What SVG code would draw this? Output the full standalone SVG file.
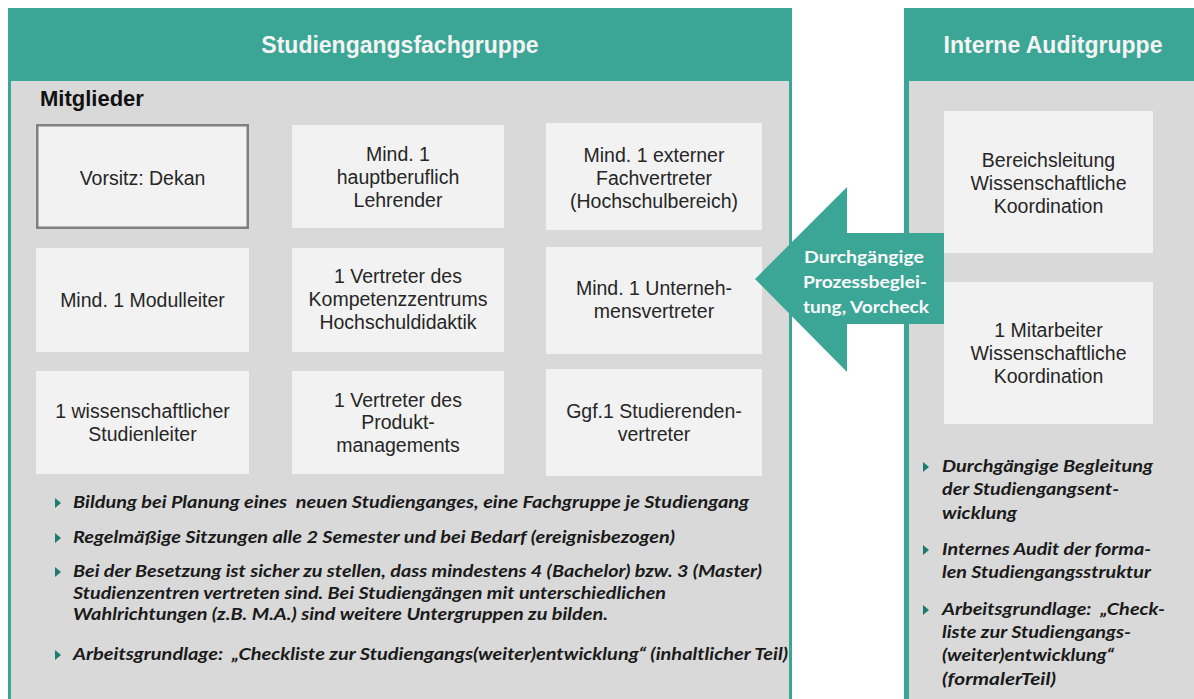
<svg xmlns="http://www.w3.org/2000/svg" width="1194" height="699" viewBox="0 0 1194 699">
<defs>
<style>
.teal{fill:#3ca696}
.panel{fill:#d9d9d9}
.box{fill:#f2f2f2}
.hd{font-family:"Liberation Sans",Arial,sans-serif;font-weight:bold;font-size:23px;fill:#f4f4f4;text-anchor:middle}
.mt{font-family:"Liberation Sans",Arial,sans-serif;font-weight:bold;font-size:22px;fill:#111}
.bt{font-family:"Liberation Sans",Arial,sans-serif;font-size:19.5px;fill:#262626;text-anchor:middle}
.bl{font-family:Lato,"Open Sans",sans-serif;font-weight:bold;font-style:italic;font-size:17px;fill:#1a1a1a;white-space:pre}
.ar{font-family:Lato,"Open Sans",sans-serif;font-weight:bold;font-size:17.5px;fill:#fafafa;text-anchor:middle}
</style>
<path id="bul" d="M0,-5 L6,0 L0,5 Z" fill="#1d7b72"/>
</defs>
<rect width="1194" height="699" fill="#ffffff"/>

<g id="studiengangsfachgruppe">
<rect class="teal" x="8" y="8" width="784" height="691"/>
<rect class="panel" x="11" y="81" width="778" height="618"/>
<text class="hd" x="400" y="53">Studiengangsfachgruppe</text>
<text class="mt" x="40" y="106">Mitglieder</text>
</g>

<g id="interne-auditgruppe">
<rect class="teal" x="904" y="8" width="290" height="691"/>
<rect class="panel" x="909" y="81" width="285" height="618"/>
<text class="hd" x="1053" y="53">Interne Auditgruppe</text>
</g>

<g id="vorsitz">
<rect class="box" x="37.25" y="125.25" width="210.5" height="102.5" stroke="#7f7f7f" stroke-width="2.5"/>
<text class="bt" x="142.5" y="185">Vorsitz: Dekan</text>
</g>
<g id="lehrender">
<rect class="box" x="292" y="125" width="212" height="103"/>
<text class="bt" x="398" y="161">Mind. 1</text>
<text class="bt" x="398" y="184">hauptberuflich</text>
<text class="bt" x="398" y="207">Lehrender</text>
</g>
<g id="fachvertreter">
<rect class="box" x="546" y="123" width="216" height="107"/>
<text class="bt" x="654" y="162">Mind. 1 externer</text>
<text class="bt" x="654" y="185">Fachvertreter</text>
<text class="bt" x="654" y="208">(Hochschulbereich)</text>
</g>
<g id="modulleiter">
<rect class="box" x="36" y="248" width="213" height="104"/>
<text class="bt" x="142.5" y="307">Mind. 1 Modulleiter</text>
</g>
<g id="kompetenzzentrum">
<rect class="box" x="292" y="248" width="212" height="104"/>
<text class="bt" x="398" y="283">1 Vertreter des</text>
<text class="bt" x="398" y="306">Kompetenzzentrums</text>
<text class="bt" x="398" y="329">Hochschuldidaktik</text>
</g>
<g id="unternehmensvertreter">
<rect class="box" x="546" y="247" width="216" height="107"/>
<text class="bt" x="654" y="295">Mind. 1 Unterneh-</text>
<text class="bt" x="654" y="318">mensvertreter</text>
</g>
<g id="studienleiter">
<rect class="box" x="36" y="371" width="213" height="103"/>
<text class="bt" x="142.5" y="418">1 wissenschaftlicher</text>
<text class="bt" x="142.5" y="441">Studienleiter</text>
</g>
<g id="produktmanagement">
<rect class="box" x="292" y="371" width="212" height="103"/>
<text class="bt" x="398" y="407">1 Vertreter des</text>
<text class="bt" x="398" y="429">Produkt-</text>
<text class="bt" x="398" y="452">managements</text>
</g>
<g id="studierendenvertreter">
<rect class="box" x="546" y="369" width="216" height="107"/>
<text class="bt" x="654" y="418">Ggf.1 Studierenden-</text>
<text class="bt" x="654" y="441">vertreter</text>
</g>

<g id="bereichsleitung">
<rect class="box" x="944" y="111" width="209" height="142"/>
<text class="bt" x="1048.5" y="167">Bereichsleitung</text>
<text class="bt" x="1048.5" y="190">Wissenschaftliche</text>
<text class="bt" x="1048.5" y="213">Koordination</text>
</g>
<g id="mitarbeiter">
<rect class="box" x="944" y="282" width="209" height="142"/>
<text class="bt" x="1048.5" y="337">1 Mitarbeiter</text>
<text class="bt" x="1048.5" y="360">Wissenschaftliche</text>
<text class="bt" x="1048.5" y="383">Koordination</text>
</g>

<g id="bullets-left">
<use href="#bul" x="55" y="503"/>
<text class="bl" x="73" y="508" textLength="676" lengthAdjust="spacingAndGlyphs">Bildung bei Planung eines  neuen Studienganges, eine Fachgruppe je Studiengang</text>
<use href="#bul" x="55" y="538"/>
<text class="bl" x="73" y="543" textLength="602" lengthAdjust="spacingAndGlyphs">Regelmäßige Sitzungen alle 2 Semester und bei Bedarf (ereignisbezogen)</text>
<use href="#bul" x="55" y="572"/>
<text class="bl" x="73" y="577" textLength="689" lengthAdjust="spacingAndGlyphs">Bei der Besetzung ist sicher zu stellen, dass mindestens 4 (Bachelor) bzw. 3 (Master)</text>
<text class="bl" x="73" y="599" textLength="593" lengthAdjust="spacingAndGlyphs">Studienzentren vertreten sind. Bei Studiengängen mit unterschiedlichen</text>
<text class="bl" x="73" y="620" textLength="535" lengthAdjust="spacingAndGlyphs">Wahlrichtungen (z.B. M.A.) sind weitere Untergruppen zu bilden.</text>
<use href="#bul" x="55" y="655"/>
<text class="bl" x="73" y="660" textLength="715" lengthAdjust="spacingAndGlyphs">Arbeitsgrundlage:  „Checkliste zur Studiengangs(weiter)entwicklung“ (inhaltlicher Teil)</text>
</g>

<g id="bullets-right">
<use href="#bul" x="923" y="467"/>
<text class="bl" x="942" y="472" textLength="211" lengthAdjust="spacingAndGlyphs">Durchgängige Begleitung</text>
<text class="bl" x="942" y="495" textLength="177" lengthAdjust="spacingAndGlyphs">der Studiengangsent-</text>
<text class="bl" x="942" y="519" textLength="75" lengthAdjust="spacingAndGlyphs">wicklung</text>
<use href="#bul" x="923" y="550"/>
<text class="bl" x="942" y="555" textLength="209" lengthAdjust="spacingAndGlyphs">Internes Audit der forma-</text>
<text class="bl" x="942" y="578" textLength="209" lengthAdjust="spacingAndGlyphs">len Studiengangsstruktur</text>
<use href="#bul" x="923" y="610"/>
<text class="bl" x="942" y="615" textLength="223" lengthAdjust="spacingAndGlyphs">Arbeitsgrundlage:  „Check-</text>
<text class="bl" x="942" y="638" textLength="189" lengthAdjust="spacingAndGlyphs">liste zur Studiengangs-</text>
<text class="bl" x="942" y="661" textLength="172" lengthAdjust="spacingAndGlyphs">(weiter)entwicklung“</text>
<text class="bl" x="942" y="685" textLength="114" lengthAdjust="spacingAndGlyphs">(formalerTeil)</text>
</g>

<g id="connectors">
<polygon class="teal" points="755,279 847,187 847,233 944,233 944,324 847,324 847,372"/>
<text class="ar" x="864" y="263" textLength="120" lengthAdjust="spacingAndGlyphs">Durchgängige</text>
<text class="ar" x="865" y="288" textLength="124" lengthAdjust="spacingAndGlyphs">Prozessbeglei-</text>
<text class="ar" x="866" y="313" textLength="126" lengthAdjust="spacingAndGlyphs">tung, Vorcheck</text>
</g>
</svg>
